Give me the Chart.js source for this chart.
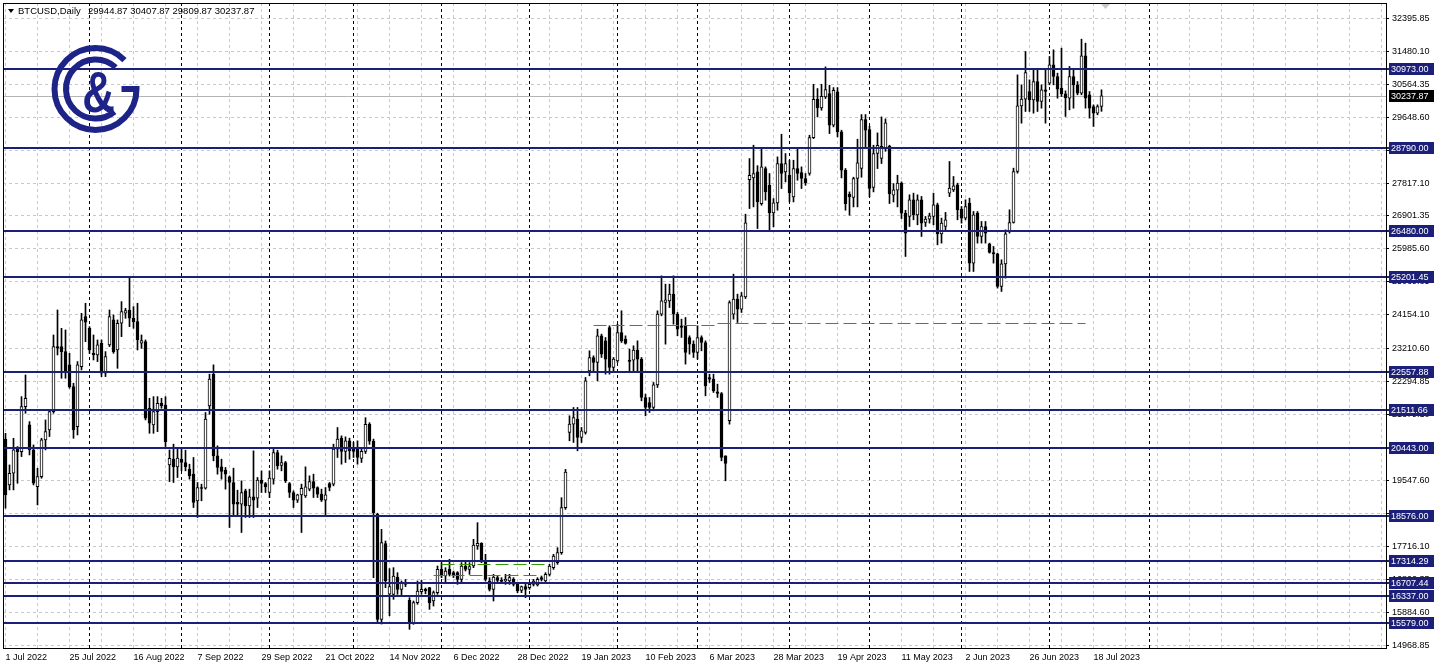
<!DOCTYPE html>
<html>
<head>
<meta charset="utf-8">
<title>BTCUSD Daily</title>
<script src="https://cdn.jsdelivr.net/npm/chart.js@4.4.0/dist/chart.umd.min.js"></script>
<style>
  html, body { margin: 0; padding: 0; background: #fff; }
  #wrap { width: 1438px; height: 669px; }
</style>
</head>
<body>
<div id="wrap"><canvas id="chart" width="1438" height="669"></canvas></div>
<script>
// daily bars, 1 Jul 2022 .. 20 Jul 2023 (weekdays only)
const opens = [
  20700, 19426, 19751, 20464, 20353, 21603, 21094, 20399, 19380, 19658,
  20677, 20955, 21464, 23271, 23271, 23132, 22761, 22159, 21048, 22715,
  24104, 23780, 23085, 23039, 23363, 22530, 23317, 24012, 23178, 23919,
  24197, 24289, 24058, 23965, 23363, 23409, 21557, 21094, 21464, 21696,
  21649, 19982, 20142, 19929, 20142, 20050, 19864, 19725, 18985, 19355,
  19337, 21625, 22504, 20235, 19929, 19837, 19652, 19494, 18940, 18892,
  19262, 18845, 19096, 19059, 19559, 19466, 19216, 19587, 20328, 19966,
  20050, 19466, 19216, 19003, 19151, 19123, 19309, 19522, 19355, 19170,
  19003, 19466, 19448, 20420, 20726, 20355, 20652, 20448, 20448, 20160,
  20360, 21110, 20646, 18608, 15691, 17793, 16390, 16386, 16867, 16525,
  16710, 16219, 15598, 16154, 16460, 16525, 16571, 16200, 16432, 17080,
  16895, 17080, 16988, 16988, 16802, 17173, 17080, 17173, 17729, 17803,
  17330, 16756, 16525, 16849, 16775, 16760, 16756, 16802, 16682, 16497,
  16599, 16571, 16663, 16645, 16849, 16756, 16941, 17127, 17266, 17543,
  18794, 20885, 21116, 21255, 20746, 20885, 22598, 22969, 22830, 23571,
  23432, 23802, 22691, 22876, 23664, 23478, 22894, 22894, 23172, 22923,
  21857, 21718, 21579, 22209, 24173, 24497, 24544, 24729, 24173, 23849,
  23849, 23525, 23339, 23108, 23525, 23386, 22413, 22366, 22015, 21968,
  20236, 21209, 24173, 24590, 24312, 24653, 27914, 27960, 28127, 27247,
  28220, 27756, 26988, 27265, 28358, 28127, 28034, 27432, 28220, 28108,
  27942, 28081, 29081, 30146, 29905, 30211, 30304, 29424, 30350, 29239,
  28173, 27506, 27414, 27942, 28220, 29581, 29303, 27692, 28637, 28498,
  28775, 28840, 27480, 27617, 27814, 26980, 26888, 27351, 26934, 27351,
  26721, 26814, 26888, 27212, 26406, 26610, 27536, 27629, 27768, 27092,
  26842, 27258, 25591, 26980, 26332, 26610, 26128, 25887, 25850, 24942,
  25572, 26471, 26721, 28138, 29963, 30148, 30361, 30130, 30639, 30083,
  30408, 30593, 31102, 30778, 30454, 30296, 30176, 30778, 30546, 30315,
  31353, 30269, 29944, 29759, 29944.87
];
const highs = [
  20860, 19982, 20723, 20492, 21881, 22483, 21186, 20538, 19890, 20723,
  21233, 21511, 23595, 24289, 23780, 23734, 23085, 22252, 22854, 24197,
  24475, 23826, 23595, 23456, 23456, 23132, 24289, 24151, 24012, 24521,
  24336, 25216, 24382, 24475, 23595, 23456, 21835, 21881, 21881, 21835,
  21881, 20399, 20559, 20448, 20420, 20392, 20003, 20189, 19494, 19448,
  21439, 22504, 22764, 20513, 20142, 19911, 19679, 19893, 19281, 19540,
  19309, 19309, 20374, 19633, 19818, 19494, 19818, 20420, 20392, 20235,
  20080, 19494, 19262, 19170, 19448, 19929, 19679, 19725, 19374, 19309,
  19355, 19494, 20559, 21022, 20791, 20763, 20726, 20606, 20652, 20466,
  21295, 21156, 20700, 18640, 18192, 17868, 17100, 17127, 16988, 16756,
  16800, 16293, 16200, 16756, 16774, 16560, 16580, 16478, 17173, 17266,
  17127, 17358, 17030, 17015, 17266, 17312, 17266, 17914, 18377, 17821,
  17497, 16849, 16941, 16895, 16849, 16941, 16941, 16849, 16710, 16617,
  16663, 16710, 16802, 16849, 16895, 16988, 17219, 17497, 17682, 19072,
  19859, 21348, 21579, 21579, 21024, 22413, 23154, 23015, 23756, 23617,
  23524, 23849, 22969, 23895, 24266, 23571, 23200, 23293, 23432, 22969,
  21950, 21857, 22274, 24266, 25238, 25007, 25007, 25238, 24220, 24034,
  24080, 23571, 23432, 23849, 23571, 23432, 22505, 22505, 22228, 21996,
  20236, 24544, 25284, 24729, 24775, 26951, 28498, 28868, 28300, 28775,
  28266, 28081, 27386, 28544, 29174, 28637, 28451, 28451, 28775, 28266,
  28081, 29146, 30563, 30443, 30563, 31045, 30535, 30470, 30470, 29285,
  28220, 27571, 27979, 29035, 29720, 29720, 29396, 28868, 29211, 29655,
  29600, 28868, 27800, 28034, 27850, 27060, 27490, 27536, 27490, 27444,
  26888, 26980, 27536, 27258, 26842, 27000, 28416, 27999, 27814, 27166,
  27351, 27397, 27027, 27027, 26749, 26749, 26147, 26054, 25869, 25684,
  26517, 27073, 28231, 30824, 30546, 31473, 30685, 30963, 30963, 30546,
  30963, 31334, 31519, 30871, 31566, 30380, 31056, 30963, 30639, 31816,
  31705, 30361, 29991, 29991, 30407.87
];
const lows = [
  18780, 19288, 19288, 19473, 20214, 21418, 20260, 19426, 18871, 19612,
  20399, 20770, 21418, 23039, 22391, 22391, 22113, 20723, 20816, 22622,
  23409, 23085, 22900, 22854, 22437, 22437, 23271, 23085, 22668, 23548,
  24058, 23826, 23780, 23178, 23224, 21233, 20862, 20862, 20908, 21557,
  20492, 19519, 19494, 19633, 19818, 19818, 19587, 18799, 18521, 18985,
  19309, 21393, 20096, 19726, 19587, 19309, 18243, 18568, 18568, 18104,
  18521, 18521, 18521, 18799, 19216, 19216, 19077, 19448, 19864, 19818,
  19494, 19077, 18799, 18938, 18104, 19077, 19262, 19077, 19077, 18966,
  18596, 19262, 19401, 20189, 20003, 20050, 20142, 20189, 20003, 20050,
  20300, 20554, 16849, 15598, 15560, 16570, 15790, 16247, 16386, 16339,
  16600, 15413, 15552, 16108, 16386, 16400, 15969, 16061, 16386, 16849,
  16710, 16895, 16850, 16663, 16710, 17034, 16941, 17127, 17636, 17266,
  16756, 16478, 16200, 16710, 16710, 16663, 16663, 16617, 16432, 16432,
  16293, 16525, 16617, 16617, 16756, 16710, 16895, 17080, 17219, 17497,
  18748, 20653, 20607, 20375, 20607, 20838, 22459, 22552, 22320, 22969,
  22505, 22505, 22552, 22830, 23386, 23339, 22598, 22598, 22598, 21764,
  21348, 21440, 21487, 22135, 24127, 23339, 24358, 23895, 23571, 23525,
  22784, 23061, 22969, 22923, 23154, 21903, 22274, 21996, 21857, 20097,
  19541, 21116, 24034, 23941, 24220, 24607, 27108, 27154, 26552, 27201,
  27340, 26506, 26599, 27062, 27664, 27849, 27293, 27293, 27895, 27664,
  27756, 28034, 29053, 29655, 29841, 30165, 29192, 29378, 29100, 27960,
  27062, 26923, 27154, 27154, 27979, 28775, 27432, 27571, 28220, 28360,
  28700, 27247, 27290, 27154, 26830, 25776, 26610, 26795, 26656, 26332,
  26610, 26703, 26656, 26100, 26147, 26500, 27440, 27580, 26795, 26703,
  26795, 25359, 25359, 26147, 26147, 26147, 25869, 25591, 24896, 24804,
  25174, 26425, 26703, 28092, 29481, 29806, 29806, 29759, 29806, 29898,
  29481, 30546, 30546, 30176, 30222, 29667, 29852, 29898, 30269, 30269,
  29898, 29620, 29389, 29713, 29809.87
];
const closes = [
  19150, 19751, 20399, 20353, 21603, 21835, 20399, 19473, 19658, 20677,
  20908, 21464, 23271, 23230, 23132, 22576, 22159, 20955, 22761, 24012,
  23947, 23178, 23039, 23317, 22530, 22993, 24104, 23132, 23919, 24243,
  24271, 24058, 23965, 23456, 23437, 21279, 21140, 21464, 21696, 21622,
  20631, 20167, 19929, 20170, 20050, 19929, 19679, 18938, 19355, 19330,
  21254, 22366, 20235, 19911, 19800, 19726, 19494, 18892, 18892, 19216,
  18845, 19096, 19000, 19559, 19466, 19374, 19615, 20328, 19957, 20050,
  19540, 19216, 19003, 19151, 19330, 19374, 19522, 19337, 19170, 19003,
  19151, 19355, 20420, 20698, 20355, 20652, 20374, 20355, 20189, 20360,
  21110, 20646, 18655, 15691, 17821, 16756, 16600, 16895, 16525, 16710,
  16663, 15598, 16154, 16478, 16525, 16478, 16154, 16432, 17080, 16895,
  17034, 16941, 16895, 16802, 17173, 17080, 17154, 17757, 17803, 17312,
  16802, 16525, 16867, 16775, 16745, 16800, 16849, 16663, 16478, 16599,
  16525, 16663, 16756, 16802, 16802, 16941, 17173, 17451, 17543, 18794,
  19785, 21116, 21301, 20746, 20931, 22320, 22969, 22830, 23571, 23061,
  22923, 22691, 22923, 23664, 23432, 23358, 22857, 23172, 22923, 21857,
  21579, 21579, 22209, 24173, 24544, 24571, 24729, 24173, 23756, 23802,
  23108, 23339, 23108, 23525, 23386, 22181, 22366, 22042, 21968, 20190,
  20023, 24497, 24590, 24312, 24683, 26710, 28034, 28080, 27290, 28266,
  27571, 26988, 27265, 28358, 28081, 28358, 27543, 28220, 28081, 27942,
  27821, 29081, 30146, 29905, 30230, 30415, 29424, 30396, 29239, 28173,
  27247, 27432, 27942, 28377, 29581, 29285, 27664, 28637, 28868, 28840,
  29489, 27525, 27630, 27817, 26980, 26425, 27351, 26934, 27351, 26703,
  26814, 26907, 27212, 26406, 26703, 26795, 27675, 27740, 27073, 26842,
  27166, 25591, 26934, 26332, 26610, 26425, 25887, 25850, 24942, 25572,
  26406, 26721, 28138, 29963, 30148, 30889, 30130, 30639, 30083, 30408,
  30361, 31102, 30778, 30426, 30296, 30185, 30778, 30546, 30315, 31353,
  30176, 29898, 29759, 29944, 30237.87
];

// date labels every 16 bars
const dateLabels = [
  '1 Jul 2022', '25 Jul 2022', '16 Aug 2022', '7 Sep 2022', '29 Sep 2022', '21 Oct 2022',
  '14 Nov 2022', '6 Dec 2022', '28 Dec 2022', '19 Jan 2023', '10 Feb 2023', '6 Mar 2023',
  '28 Mar 2023', '19 Apr 2023', '11 May 2023', '2 Jun 2023', '26 Jun 2023', '18 Jul 2023'
];
// first bar of each month (period separators)
const monthStarts = [21, 44, 66, 87, 109, 131, 153, 173, 196, 216, 239, 261, 286];

const yTicks = [
  32395.85, 31480.10, 30564.35, 29648.60, 28732.85, 27817.10, 26901.35, 25985.60,
  25069.85, 24154.10, 23210.60, 22294.85, 21379.10, 20463.35, 19547.60, 18631.85,
  17716.10, 16800.35, 15884.60, 14968.85
];
// horizontal support / resistance levels
const levels = [
  30973.00, 28790.00, 26480.00, 25201.45, 22557.88, 21511.66,
  20443.00, 18576.00, 17314.29, 16707.44, 16337.00, 15579.00
];
// green dashed lines: [fromBar, toBar, price]
const greenLines = [
  [107, 134, 16915],
  [109, 135, 17220],
  [147, 178, 23870],
  [178, 270, 23925]
];
const symbolTitle = 'BTCUSD,Daily';

const NAVY = '#1b1f78';
const GRID = '#c8c8c8';
const FONT = '"Liberation Sans", Arial, sans-serif';

Chart.defaults.font.family = FONT;
Chart.defaults.font.size = 9;
Chart.defaults.color = '#000';

const lastBar = closes.length - 1;
const lastPrice = closes[lastBar];

const bodyData = opens.map((o, i) => ({ x: i, y: [o, closes[i]] }));
const wickData = lows.map((l, i) => ({ x: i, y: [l, highs[i]] }));
const bodyColors = closes.map((c, i) => c >= opens[i] ? '#ffffff' : '#000000');

const gridBars = [];
for (let b = 0; b <= 344; b += 8) gridBars.push(b);

function drawLogo(ctx) {
    const cx = 95.5, cy = 89;
    ctx.save();
    ctx.strokeStyle = '#1e2388';
    ctx.fillStyle = '#1e2388';
    ctx.lineWidth = 6;
    ctx.lineCap = 'butt';
    ctx.beginPath();
    ctx.arc(cx, cy, 41, -Math.PI / 4, 0, true);
    ctx.lineTo(cx + 26, cy);
    ctx.stroke();
    ctx.beginPath();
    ctx.arc(cx, cy, 29.5, -47 * Math.PI / 180, 50 * Math.PI / 180, true);
    ctx.stroke();
    ctx.translate(98.5, 112);
    ctx.scale(0.78, 1);
    ctx.font = 'bold 58px ' + FONT;
    ctx.textAlign = 'center';
    ctx.textBaseline = 'alphabetic';
    ctx.fillText('&', 0, 0);
    ctx.restore();
}

function priceBox(ctx, py, text, bg) {
    ctx.fillStyle = bg;
    ctx.fillRect(1389, py - 6, 45, 12);
    ctx.fillStyle = '#fff';
    ctx.font = '9px ' + FONT;
    ctx.textAlign = 'left';
    ctx.textBaseline = 'middle';
    ctx.fillText(text, 1391, py + 0.5);
}

const mtPlugin = {
    id: 'mt',
    beforeDatasetsDraw(chart) {
        const { ctx, chartArea: a, scales: { x, y } } = chart;
        ctx.save();
        ctx.strokeStyle = '#000';
        ctx.lineWidth = 1;
        ctx.setLineDash([3, 3]);
        monthStarts.forEach(b => {
            const px = Math.floor(x.getPixelForValue(b)) + 0.5;
            ctx.beginPath();
            ctx.moveTo(px, a.top);
            ctx.lineTo(px, a.bottom);
            ctx.stroke();
        });
        // last price line
        ctx.setLineDash([]);
        ctx.strokeStyle = '#b4b4b4';
        const py = Math.round(y.getPixelForValue(lastPrice)) + 0.5;
        ctx.beginPath();
        ctx.moveTo(a.left, py);
        ctx.lineTo(a.right, py);
        ctx.stroke();
        ctx.restore();
    },
    afterDatasetsDraw(chart) {
        const { ctx, chartArea: a, scales: { x, y } } = chart;
        ctx.save();
        ctx.strokeStyle = NAVY;
        ctx.lineWidth = 2;
        levels.forEach(v => {
            const py = Math.round(y.getPixelForValue(v));
            ctx.beginPath();
            ctx.moveTo(a.left, py);
            ctx.lineTo(1389, py);
            ctx.stroke();
        });
        ctx.strokeStyle = '#339900';
        ctx.lineWidth = 1;
        ctx.setLineDash([13, 5]);
        greenLines.forEach(([b0, b1, v]) => {
            const py = Math.round(y.getPixelForValue(v)) + 0.5;
            ctx.beginPath();
            ctx.moveTo(x.getPixelForValue(b0), py);
            ctx.lineTo(x.getPixelForValue(b1), py);
            ctx.stroke();
        });
        ctx.restore();
        drawLogo(ctx);
    },
    afterDraw(chart) {
        const { ctx, chartArea: a, scales: { y } } = chart;
        ctx.save();
        // frame
        ctx.strokeStyle = '#000';
        ctx.lineWidth = 1;
        ctx.strokeRect(a.left + 0.5, a.top + 0.5, a.right - a.left, a.bottom - a.top);
        // title
        ctx.fillStyle = '#000';
        ctx.beginPath();
        ctx.moveTo(8, 9); ctx.lineTo(14, 9); ctx.lineTo(11, 13); ctx.closePath();
        ctx.fill();
        ctx.font = '9.5px ' + FONT;
        ctx.textBaseline = 'middle';
        ctx.fillText(symbolTitle, 18, 11.5);
        const ohlc = [opens[lastBar], highs[lastBar], lows[lastBar], closes[lastBar]]
            .map(v => v.toFixed(2)).join(' ');
        ctx.fillText(ohlc, 88, 11.5);
        // chart shift marker
        ctx.fillStyle = '#c8c8c8';
        ctx.beginPath();
        ctx.moveTo(1101, 4); ctx.lineTo(1110, 4); ctx.lineTo(1105.5, 9); ctx.closePath();
        ctx.fill();
        // level labels on the price scale
        levels.forEach(v => priceBox(ctx, Math.round(y.getPixelForValue(v)), v.toFixed(2), NAVY));
        priceBox(ctx, Math.round(y.getPixelForValue(lastPrice)), lastPrice.toFixed(2), '#000');
        ctx.restore();
    }
};

const ctx = document.getElementById('chart').getContext('2d');
new Chart(ctx, {
    type: 'bar',
    data: {
        datasets: [
            {
                label: 'body',
                data: bodyData,
                backgroundColor: bodyColors,
                borderColor: '#000',
                borderWidth: 1,
                borderSkipped: false,
                barThickness: 3,
                grouped: false,
                order: 0
            },
            {
                label: 'wick',
                data: wickData,
                backgroundColor: '#000',
                borderWidth: 0,
                barThickness: 1,
                grouped: false,
                order: 1
            }
        ]
    },
    options: {
        responsive: false,
        animation: false,
        devicePixelRatio: 1,
        events: [],
        layout: { padding: { left: 3, top: 3, right: 0, bottom: 0 } },
        plugins: {
            legend: { display: false },
            tooltip: { enabled: false }
        },
        scales: {
            x: {
                type: 'linear',
                position: 'bottom',
                min: -0.625,
                max: 345.125,
                bounds: 'data',
                offset: false,
                afterBuildTicks: s => { s.ticks = gridBars.map(v => ({ value: v })); },
                afterFit: s => { s.height = 21; s.paddingLeft = 0; s.paddingRight = 0; },
                grid: { offset: false, color: GRID, lineWidth: 1, drawTicks: false },
                border: { display: false, dash: [3, 3] },
                ticks: {
                    autoSkip: false,
                    maxRotation: 0,
                    minRotation: 0,
                    align: 'start',
                    padding: 4,
                    font: { size: 9 },
                    callback: v => v % 16 === 0 ? (dateLabels[v / 16] || '') : ''
                }
            },
            y: {
                position: 'right',
                min: 14894,
                max: 32821,
                afterBuildTicks: s => { s.ticks = yTicks.map(v => ({ value: v })); },
                afterFit: s => { s.width = 52; s.paddingTop = 0; s.paddingBottom = 0; },
                grid: { color: GRID, lineWidth: 1, drawTicks: true, tickLength: 3, tickColor: '#000' },
                border: { display: false, dash: [3, 3] },
                ticks: {
                    padding: 3,
                    font: { size: 9 },
                    callback: v => Number(v).toFixed(2)
                }
            }
        }
    },
    plugins: [mtPlugin]
});
</script>
</body>
</html>
